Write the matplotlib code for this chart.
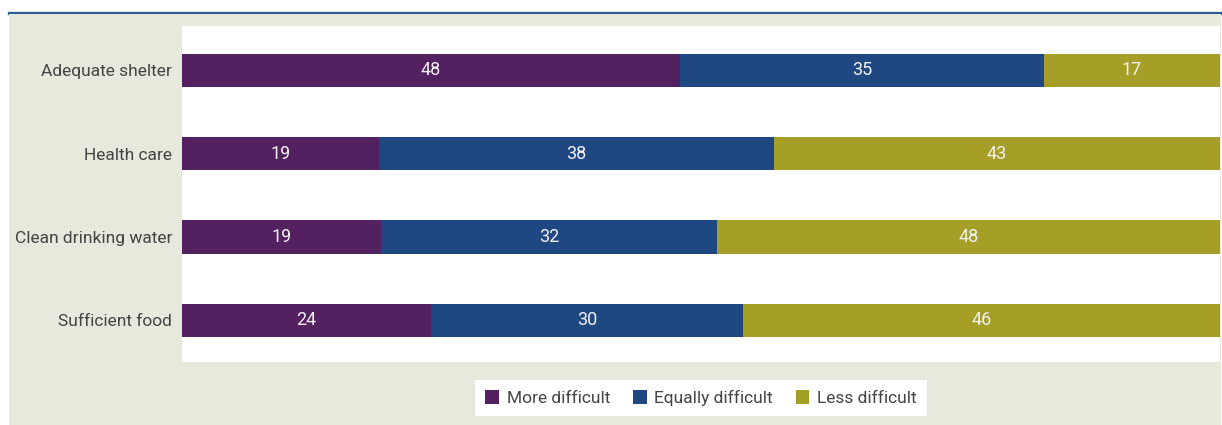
import numpy as np
import matplotlib.pyplot as plt
from matplotlib.patches import Rectangle, Patch
from matplotlib.lines import Line2D

plt.rcParams['font.family'] = ['Liberation Sans Narrow', 'Roboto', 'DejaVu Sans']
plt.rcParams['font.weight'] = 'normal'

# Donnees (pourcentages)
categories = ['Adequate shelter', 'Health care', 'Clean drinking water', 'Sufficient food']
more_difficult = [48, 19, 19, 24]
equally_difficult = [35, 38, 32, 30]
less_difficult = [17, 43, 48, 46]
series_names = ['More difficult', 'Equally difficult', 'Less difficult']
colors = ['#532060', '#1f4882', '#a59e27']

W, H = 1222, 425
fig = plt.figure(figsize=(W / 100, H / 100), dpi=100)
fig.patch.set_facecolor('white')

# Panneau gris de fond et ligne bleue en haut
fig.patches.append(Rectangle((9 / W, 0), (1221 - 9) / W, (H - 14) / H,
                             transform=fig.transFigure, facecolor='#e6e9dc',
                             edgecolor='none', zorder=-5))
fig.lines.append(Line2D([9 / W, 1], [(H - 13) / H] * 2, transform=fig.transFigure,
                        color='#2a5f95', linewidth=2.4, zorder=-5))

ax = fig.add_axes([182 / W, (H - 362) / H, (1220 - 182) / W, (362 - 26) / H])
ax.set_zorder(2)
ax.set_facecolor('white')

data = np.array([more_difficult, equally_difficult, less_difficult], dtype=float)
shares = data / data.sum(axis=0) * 100  # barres empilees a 100 %
y = np.arange(len(categories))
left = np.zeros(len(categories))
for i in range(3):
    ax.barh(y, shares[i], left=left, height=0.4, color=colors[i], edgecolor='none')
    for j in range(len(categories)):
        ax.text(left[j] + shares[i][j] / 2, y[j], f'{int(data[i][j])}',
                ha='center', va='center', color='#f2f2f2', fontsize=13)
    left += shares[i]

ax.set_xlim(0, 100)
ax.set_ylim(3.5, -0.53)
ax.set_yticks(y)
ax.set_yticklabels(categories, fontsize=12.5, color='#444444')
ax.set_xticks([])
ax.tick_params(axis='y', length=0, pad=7)
for s in ax.spines.values():
    s.set_visible(False)

handles = [Patch(facecolor=c, edgecolor='none') for c in colors]
leg = fig.legend(handles, series_names, loc='center', bbox_to_anchor=(701 / W, (H - 398) / H),
                 ncol=3, frameon=True, fancybox=False, fontsize=12.5, handlelength=0.8,
                 handleheight=0.8, columnspacing=1.3, handletextpad=0.45,
                 borderpad=0.6, labelcolor='#444444')
leg.get_frame().set_facecolor('white')
leg.get_frame().set_edgecolor('none')
leg.get_frame().set_alpha(1)
leg.set_zorder(3)

fig.savefig('out.png', dpi=100)
